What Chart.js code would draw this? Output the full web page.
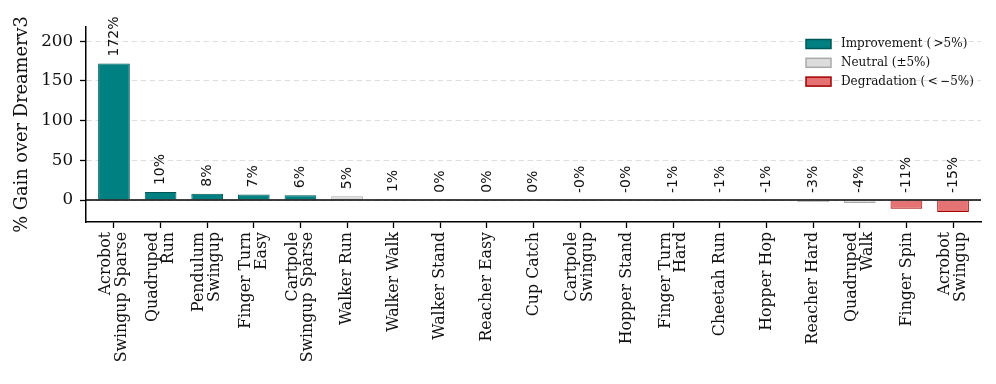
<!DOCTYPE html>
<html>
<head>
<meta charset="utf-8">
<script src="https://cdn.jsdelivr.net/npm/chart.js@4"></script>
<style>
  html, body { margin: 0; padding: 0; background: #fff; }
  #wrap { width: 996px; height: 384px; position: relative; }
</style>
</head>
<body>
<div id="wrap"><canvas id="myChart"></canvas></div>
<script>
// task names (multi-line labels as in the figure)
const tasks = [
  ['Acrobot', 'Swingup Sparse'], ['Quadruped', 'Run'], ['Pendulum', 'Swingup'],
  ['Finger Turn', 'Easy'], ['Cartpole', 'Swingup Sparse'], 'Walker Run', 'Walker Walk',
  'Walker Stand', 'Reacher Easy', 'Cup Catch', ['Cartpole', 'Swingup'], 'Hopper Stand',
  ['Finger Turn', 'Hard'], 'Cheetah Run', 'Hopper Hop', 'Reacher Hard', ['Quadruped', 'Walk'],
  'Finger Spin', ['Acrobot', 'Swingup']
];
// % gain over Dreamerv3
const gains = [172, 10, 8, 7, 6, 4.8, 1.2, 0.4, 0.3, 0.2, -0.2, -0.3, -0.8, -1.0, -1.2, -2.6, -3.8, -11, -15];
const yTicks = [0, 50, 100, 150, 200];
const groupNames = ['Improvement (\u2009>5%)', 'Neutral (±5%)', 'Degradation (\u2009<\u2009−5%)'];

function groupOf(v) {
  if (v > 5) return 0;
  if (v < -5) return 2;
  return 1;
}

const fills = ['#008080', '#dcdcdc', '#e57373'];
const edges = ['#005757', '#aaaaaa', '#a00000'];

const datasets = groupNames.map((name, g) => ({
  label: name,
  data: gains.map((v, i) => ({ x: i, y: groupOf(v) === g ? v : null })),
  backgroundColor: fills[g],
  borderColor: edges[g],
  borderWidth: 1,
  barPercentage: 0.68,
  categoryPercentage: 1,
  skipNull: true,
  grouped: false
}));

const serif = 'DejaVu Serif';
const tickSize = 15.8;

const extras = {
  id: 'extras',
  beforeDraw(chart) {
    // center the two-line task names on their tick
    const items = chart.scales.x.getLabelItems();
    items.forEach(it => {
      if (Array.isArray(it.label) && !it._moved) {
        it.options.translation[0] -= tickSize / 2;
        it._moved = true;
      }
    });
  },
  afterDatasetsDraw(chart) {
    const { ctx, chartArea, scales: { x, y } } = chart;
    // zero line
    const y0 = y.getPixelForValue(0);
    ctx.save();
    ctx.strokeStyle = '#000';
    ctx.lineWidth = 1.3;
    ctx.beginPath();
    ctx.moveTo(chartArea.left, y0);
    ctx.lineTo(chartArea.right, y0);
    ctx.stroke();
    // value labels
    ctx.fillStyle = '#111';
    ctx.font = '14px "DejaVu Sans"';
    ctx.textAlign = 'left';
    ctx.textBaseline = 'middle';
    gains.forEach((v, i) => {
      const px = x.getPixelForValue(i);
      const py = y.getPixelForValue(Math.max(v, 0)) - 7;
      ctx.save();
      ctx.translate(px, py);
      ctx.rotate(-Math.PI / 2);
      ctx.fillText(v.toFixed(0) + '%', 0, 0);
      ctx.restore();
    });
    // legend
    const lx = 806, ly = 44, row = 18.8;
    ctx.font = '12px ' + serif;
    chart.data.datasets.forEach((ds, k) => {
      const cy = ly + k * row;
      ctx.fillStyle = ds.backgroundColor;
      ctx.fillRect(lx, cy - 4.5, 25, 9);
      ctx.strokeStyle = ds.borderColor;
      ctx.lineWidth = 1.5;
      ctx.strokeRect(lx, cy - 4.5, 25, 9);
      ctx.fillStyle = '#111';
      ctx.fillText(ds.label, lx + 35, cy);
    });
    ctx.restore();
  }
};

new Chart(document.getElementById('myChart'), {
  type: 'bar',
  data: { datasets },
  options: {
    responsive: true,
    maintainAspectRatio: false,
    animation: false,
    layout: { padding: { top: 27, right: 15, left: 12, bottom: 0 } },
    scales: {
      x: {
        type: 'linear',
        offset: false,
        min: -0.6,
        max: 18.6,
        afterBuildTicks: (s) => { s.ticks = tasks.map((t, i) => ({ value: i })); },
        afterFit: (s) => { s.height = 162; },
        grid: { offset: false, drawOnChartArea: false, drawTicks: true, tickLength: 6, tickColor: '#000', tickWidth: 1.3 },
        border: { display: true, color: '#000', width: 1.5 },
        ticks: {
          autoSkip: false,
          minRotation: 90,
          maxRotation: 90,
          padding: 4,
          color: '#111',
          font: { family: serif, size: tickSize, lineHeight: 1.0 },
          callback: (v) => tasks[v]
        }
      },
      y: {
        min: -27.7,
        max: 218,
        afterBuildTicks: (s) => { s.ticks = yTicks.map(v => ({ value: v })); },
        afterFit: (s) => { s.width = 74; },
        grid: { color: '#dedede', lineWidth: 1, tickColor: '#000', tickLength: 6, tickWidth: 1.3 },
        border: { display: true, color: '#000', width: 1.5, dash: [5.5, 3.5] },
        ticks: {
          padding: 7,
          color: '#111',
          font: { family: serif, size: 16.7 }
        },
        title: {
          display: true,
          text: '% Gain over Dreamerv3',
          color: '#111',
          font: { family: serif, size: 17.8 },
          padding: { top: 0, bottom: 6 }
        }
      }
    },
    plugins: {
      legend: { display: false },
      tooltip: { enabled: false }
    }
  },
  plugins: [extras]
});
</script>
</body>
</html>
